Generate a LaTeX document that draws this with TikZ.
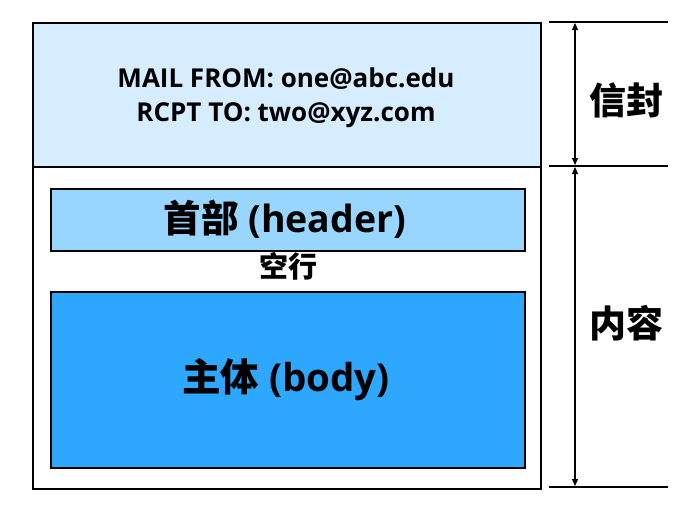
\documentclass[tikz,border=0pt]{standalone}
\usepackage{fontspec}
\setmainfont{Open Sans}
\newfontfamily\cjk{Noto Sans CJK SC}
\usetikzlibrary{arrows.meta}
\definecolor{envfill}{RGB}{214,236,255}
\definecolor{hdrfill}{RGB}{153,214,255}
\definecolor{bodyfill}{RGB}{46,168,255}
\tikzset{
  boxline/.style={draw=black, line width=2pt},
  tickline/.style={draw=black, line width=2pt},
  dimarrow/.style={draw=black, line width=1.2pt, {Triangle[length=7pt,width=6pt]}-{Triangle[length=7pt,width=6pt]}},
  lbl/.style={inner sep=0pt, font=\bfseries},
}
\begin{document}
\begin{tikzpicture}[x=1pt,y=-1pt]
\useasboundingbox (0,0) rectangle (679,515);
% envelope
\node[boxline, fill=envfill, minimum width=508pt, minimum height=144pt, anchor=north west, inner sep=0pt] (env) at (32,22) {};
% content
\node[boxline, fill=white, minimum width=508pt, minimum height=322pt, anchor=north west, inner sep=0pt] (cont) at (32,166) {};
% header
\node[boxline, fill=hdrfill, minimum width=474pt, minimum height=62pt, anchor=north west, inner sep=0pt] (hdr) at (50,188) {};
% body
\node[boxline, fill=bodyfill, minimum width=474pt, minimum height=176pt, anchor=north west, inner sep=0pt] (bdy) at (50,291) {};
% texts
\node[lbl, align=center, font=\bfseries\fontsize{26}{34}\selectfont] (mail) at (286,97.5) {MAIL FROM: one@abc.edu\\RCPT TO: two@xyz.com};
\node[lbl, font=\bfseries\fontsize{37.5}{40}\selectfont] (hdrtxt) at (285,219) {{\cjk\bfseries 首部} (header)};
\node[lbl, font=\fontsize{29}{32}\selectfont] (blank) at (288,266) {\cjk\bfseries 空行};
\node[lbl, font=\bfseries\fontsize{38.5}{42}\selectfont] (bdytxt) at (286,380) {{\cjk\bfseries 主体} (body)};
\node[lbl, font=\fontsize{37}{40}\selectfont] (envlbl) at (626,100) {\cjk\bfseries 信封};
\node[lbl, font=\fontsize{37}{40}\selectfont] (contlbl) at (626,323) {\cjk\bfseries 内容};
% tick lines
\coordinate (t1a) at (549,22); \coordinate (t1b) at (668,22);
\coordinate (t2a) at (549,166); \coordinate (t2b) at (668,166);
\coordinate (t3a) at (549,487); \coordinate (t3b) at (668,487);
\draw[tickline] (t1a) -- (t1b);
\draw[tickline] (t2a) -- (t2b);
\draw[tickline] (t3a) -- (t3b);
\coordinate (a1) at (575,23); \coordinate (a2) at (575,165);
\coordinate (a3) at (575,167); \coordinate (a4) at (575,486);
\draw[dimarrow] (a1) -- (a2);
\draw[dimarrow] (a3) -- (a4);
\end{tikzpicture}
\end{document}
